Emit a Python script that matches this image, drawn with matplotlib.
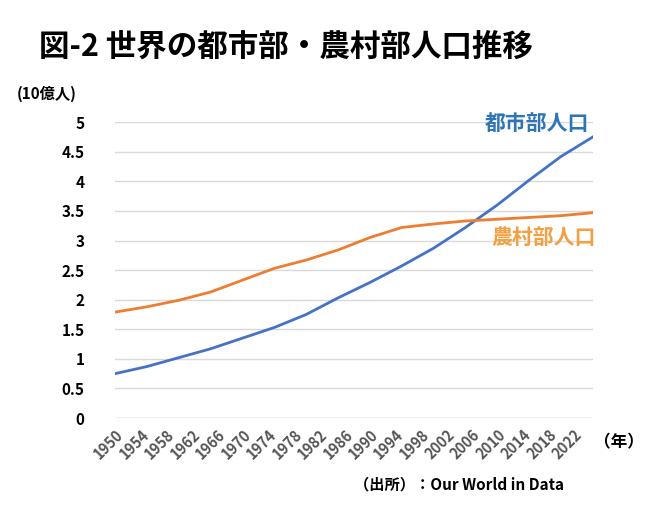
import matplotlib
matplotlib.use("Agg")
import matplotlib.pyplot as plt

plt.rcParams['font.family'] = ['Noto Sans CJK JP', 'DejaVu Sans']

years = [1950, 1955, 1960, 1965, 1970, 1975, 1980, 1985, 1990, 1995,
         2000, 2005, 2010, 2015, 2020, 2025]
urban = [0.75, 0.87, 1.02, 1.17, 1.35, 1.53, 1.75, 2.03, 2.29, 2.57,
         2.87, 3.22, 3.60, 4.02, 4.42, 4.75]
rural = [1.79, 1.88, 1.99, 2.13, 2.33, 2.53, 2.67, 2.84, 3.05, 3.22,
         3.28, 3.33, 3.36, 3.39, 3.42, 3.47]
xticks = list(range(1950, 2023, 4))
yticks = [0, 0.5, 1, 1.5, 2, 2.5, 3, 3.5, 4, 4.5, 5]
ylabels = ['0', '0.5', '1', '1.5', '2', '2.5', '3', '3.5', '4', '4.5', '5']

blue = '#4472c4'
orange = '#ed7d31'

fig = plt.figure(figsize=(6.5, 5.07), dpi=100)
ax = fig.add_axes([0.177, 0.1755, 0.735, 0.5835])
ax.plot(years, urban, color=blue, lw=2)
ax.plot(years, rural, color=orange, lw=2)
ax.set_xlim(1950, 2025)
ax.set_ylim(0, 5)
ax.set_yticks(yticks)
ax.set_yticklabels(ylabels, fontsize=11, fontweight='bold')
ax.set_xticks(xticks)
ax.set_xticklabels([str(x) for x in xticks], rotation=45, ha='right',
                   rotation_mode='anchor', fontsize=10.5, fontweight='bold',
                   color='#555555')
ax.grid(axis='y', color='#d9d9d9', lw=1)
ax.tick_params(length=0, pad=6)
ax.tick_params(axis='y', pad=22)
for s in ax.spines.values():
    s.set_visible(False)
ax.axhline(0, color='#d9d9d9', lw=1)

fig.text(0.06, 0.89, '図-2 世界の都市部・農村部人口推移', fontsize=22, fontweight='bold')
fig.text(0.025, 0.805, '(10億人)', fontsize=11, fontweight='bold')
fig.text(0.99, 0.118, '（年）', fontsize=12, fontweight='bold', ha='right')
ax.text(2024.5, 4.98, '都市部人口', color='#2e75b6', fontsize=15, fontweight='bold',
        ha='right', va='center')
ax.text(2025.5, 3.05, '農村部人口', color='#f4a040', fontsize=15, fontweight='bold',
        ha='right', va='center', clip_on=False)
fig.text(0.545, 0.035, '（出所）：Our World in Data', fontsize=11, fontweight='bold')

fig.savefig('out.png', dpi=100)
